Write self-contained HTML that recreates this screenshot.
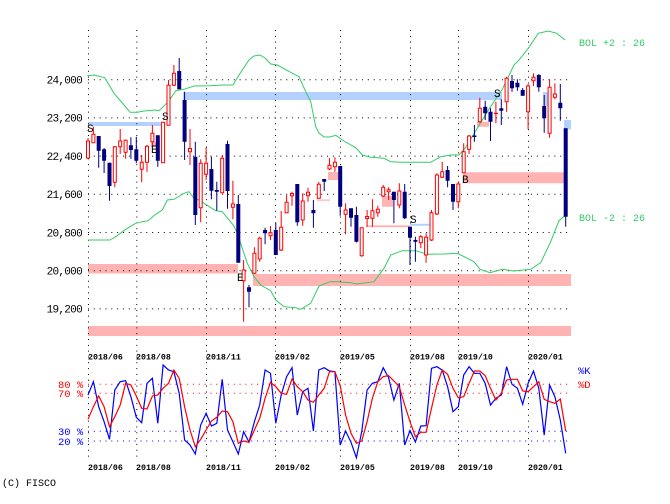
<!DOCTYPE html>
<html><head><meta charset="utf-8"><style>
html,body{margin:0;padding:0;background:#fff;}
svg{display:block;}
text{font-family:"Liberation Mono",monospace;}
</style></head><body>
<svg width="670" height="504" viewBox="0 0 670 504" xmlns="http://www.w3.org/2000/svg">
<rect width="670" height="504" fill="#fff"/>
<path fill="#b3d1ff" d="M88 122h73v4h-73zM183 92h319v8h-319zM543 92h5v14h-5zM564 120h7v9.5h-7zM410 223.8h20v2h-20z"/>
<path fill="#ffb3b3" d="M88 264h150v9.5h-150zM253 274h318v12h-318zM88 326h483v10h-483zM151 142h5v5h-5zM328 172h11v8h-11zM317 199.5h13v1.3h-13zM366 225.3h44v2h-44zM382 196h11v10.7h-11zM463 172.3h101v11h-101zM477 121.7h12v5h-12z"/>
<path stroke="#000" stroke-width="1" stroke-dasharray="1 4.83" fill="none" d="M88 79.7H568M88 117.9H568M88 156.1H568M88 194.3H568M88 232.5H568M88 270.7H568M88 308.9H568M88.5 30V458M136.8 30V458M206.5 30V458M275.5 30V458M340.5 30V458M410.5 30V458M458.5 30V458M528.5 30V458"/>
<path stroke="#f00" stroke-width="1" stroke-dasharray="1 4.83" fill="none" d="M88 384.3H568M88 393.3H568"/>
<path stroke="#00f" stroke-width="1" stroke-dasharray="1 4.83" fill="none" d="M88 431.3H568M88 441H568"/>
<g stroke="#33cc66" stroke-width="1" fill="none">
<polyline points="87.3,75.7 94,75 104.7,77.7 114,93.3 124,105 130,112.3 137.3,112.3 144,111 155.7,110 159,110.7 165.7,104.3 170,99.3 175.7,90.7 184,89.3 194,86 210,85.7 222.3,85 233,85 239,75 249,60 254,56 260,55 265,58 270.7,64 277.3,65 290.7,72.3 299,76.7 305.7,91.7 310.7,101.7 315.7,126.7 319,133 324,137 330,137 335.7,135.3 344,141 355.7,147.7 362.3,155 370.7,157.3 384,158.3 390.7,161.7 400.7,162.3 430.7,162.3 440.7,156.7 450.7,155 459,155 465.7,147.3 477.3,128.3 487.3,111.7 502.3,89.3 514,65 519,60 528.3,48.3 538.3,33.3 548.3,31 556.7,33.3 565,40"/>
<polyline points="88,240 110,240 117.3,235.7 125.7,229.3 135.7,223.3 142.3,221.7 148,220.7 155.7,214.3 162.3,210 167.3,200 174,199.3 184,193.3 189,191.7 194,198.3 200.7,200.7 204,203.3 215.7,210.7 222.3,211.7 234,226 237.3,233.3 247.3,263.3 254,276.7 260.7,285 270.7,290.7 275.7,300 284,306.7 295.7,307.7 300.7,309.3 310.7,303.3 319,286 330,281.7 337.3,281.7 350.7,282.7 356.3,284 374,281.7 384,268.3 390.7,255 402.3,250.7 415.7,250.7 427.3,254.3 444,254 457.3,253.3 474,261.7 480,269.3 490,272.7 502.3,269.3 514,271 530.7,269.3 540.7,262.7 550.7,241.7 559,220.7 565.7,215"/>
</g>
<path fill="none" stroke="#000080" stroke-width="1" d="M98.7 136V167.7M104.1 148V173M109.5 162.7V200.7M130.9 137.3V158.7M136.3 136.7V163.3M157.8 135.3V166.7M179.2 58V89.3M184.6 91.7V160M195.3 141.7V225M211.4 156.7V199.3M216.8 181.7V210.7M227.5 140.7V208.7M238.3 195V262.7M249 285V307.3M265.1 227.7V244.3M275.8 222.7V255M297.3 184V225.7M313.4 200V227.7M324.2 179V191M340.2 166V215.7M351 208.3V226.7M356.4 206.7V242.5M393.9 191.7V223.3M404.7 184V219M410 226.7V265M415.4 236.7V261.7M447.6 166V187.3M453 184V210M474.4 125V141.7M485.2 100.7V120M490.5 108.3V141M501.3 99.3V125M512 75V91.7M517.4 79.3V90.7M522.7 88V95.7M538.8 74V91.7M544.2 95V132.7M560.3 84V120.7M565.7 128.3V226.7"/>
<path fill="none" stroke="#000080" stroke-width="4" d="M98.7 136V150.7M104.1 149.3V160.7M109.5 162.7V186M130.9 145.3V150M136.3 149.3V160.7M157.8 135.3V160.7M179.2 71V89.3M184.6 100V141.7M195.3 156.7V215M211.4 169V190.7M216.8 190V191.7M227.5 144V191M238.3 204V262.7M249 287.3V291.7M265.1 230V233.3M275.8 230V255M297.3 184V222.3M313.4 210V213.3M324.2 179V181.7M340.2 166V206.7M351 208.3V217.7M356.4 215V241.7M393.9 191.7V200M404.7 191.7V218.3M410 226.7V237.7M415.4 240V241.7M447.6 170V180.7M453 184V201.7M474.4 135.5V137M485.2 106.7V113.3M490.5 111.7V121.7M501.3 108.3V110.7M512 81V88.3M517.4 82.7V87.3M522.7 90V95.7M538.8 75V87.3M544.2 106V118.3M560.3 102.7V108.3M565.7 128.3V216.7"/>
<path fill="none" stroke="#f00" stroke-width="1" d="M88 138V159M93.4 126.7V143M114.8 146V187.3M120.2 129V154M125.6 139.5V158.7M141.7 155V182.3M147 145V171.7M152.4 125V146.7M163.1 122.3V163M168.5 80V125.3M173.9 65V86M190 129V165M200.7 159.3V222.3M206.1 147.3V180M222.2 155V193.3M232.9 180.7V219.3M243.6 260V321.7M254.4 247.3V274M259.7 236.7V261.7M270.5 226V240M281.2 211V251M286.6 195V213.3M292 191.7V205.7M302.7 193.3V225.7M308 187.7V201.7M318.8 181.7V198.7M329.5 158.3V170M334.9 157.3V171.7M345.6 203.3V234.3M361.7 227.7V256.7M367.1 210V226.7M372.4 199.3V226.7M377.8 205.7V216.7M383.2 185V197M388.6 187.3V200M399.3 183.3V208.3M420.8 235V248.3M426.1 233.3V262.7M431.5 210V241M436.9 173.3V215M442.2 161.7V178M458.3 181.7V208.3M463.7 143.3V173M469.1 135V154M479.8 97.7V122.7M495.9 101.7V123.3M506.6 76.7V111.7M528.1 84V129.3M533.5 73.3V86M549.6 79.3V137.7M554.9 83.3V99.3"/>
<path fill="none" stroke="#f00" stroke-width="4" d="M88 140.5V158.5M93.4 133.8V143.2M114.8 146.2V182.8M120.2 140.5V147.2M125.6 139.8V152.8M141.7 161.8V169.8M147 145.8V162.8M152.4 132.8V142.2M163.1 121.8V163.2M168.5 84.8V125.8M173.9 72.8V85.8M190 148V152.2M200.7 162.8V208.2M206.1 162.8V174.8M222.2 157.8V193.2M232.9 203.5V207.8M243.6 269.5V281.2M254.4 252.8V273.8M259.7 237.8V259.5M270.5 232.2V236.2M281.2 226.8V250.5M286.6 201.8V213.2M292 193V196.2M302.7 200.5V220.5M308 191.8V196.2M318.8 183.8V198.8M329.5 164.8V169.5M334.9 161.8V167.2M345.6 209.5V214.8M361.7 227.2V256.2M367.1 216V219M372.4 210.2V218.8M377.8 208.8V213.2M383.2 186.8V196.5M388.6 189.3V192.3M399.3 190.5V205.5M420.8 236.2V243.2M426.1 236.8V255.5M431.5 212.2V240.5M436.9 174.5V214.5M442.2 171.2V177.8M458.3 183.5V202.2M463.7 151.2V173.2M469.1 135.5V149.8M479.8 107.8V122.2M495.9 112.8V114.1M506.6 77.8V102.2M528.1 85.5V112.2M533.5 76.8V81.2M549.6 86.8V133.8M554.9 93.5V97.8"/>
<path fill="none" stroke="#fff" stroke-width="2" d="M88 141.5V157.5M93.4 134.8V142.2M114.8 147.2V181.8M120.2 141.5V146.2M125.6 140.8V151.8M141.7 162.8V168.8M147 146.8V161.8M152.4 133.8V141.2M163.1 122.8V162.2M168.5 85.8V124.8M173.9 73.8V84.8M190 149V151.2M200.7 163.8V207.2M206.1 163.8V173.8M222.2 158.8V192.2M232.9 204.5V206.8M243.6 270.5V280.2M254.4 253.8V272.8M259.7 238.8V258.5M270.5 233.2V235.2M281.2 227.8V249.5M286.6 202.8V212.2M292 194V195.2M302.7 201.5V219.5M308 192.8V195.2M318.8 184.8V197.8M329.5 165.8V168.5M334.9 162.8V166.2M345.6 210.5V213.8M361.7 228.2V255.2M367.1 217V218M372.4 211.2V217.8M377.8 209.8V212.2M383.2 187.8V195.5M388.6 190.3V191.3M399.3 191.5V204.5M420.8 237.2V242.2M426.1 237.8V254.5M431.5 213.2V239.5M436.9 175.5V213.5M442.2 172.2V176.8M458.3 184.5V201.2M463.7 152.2V172.2M469.1 136.5V148.8M479.8 108.8V121.2M506.6 78.8V101.2M528.1 86.5V111.2M533.5 77.8V80.2M549.6 87.8V132.8M554.9 94.5V96.8"/>
<g font-size="11" fill="#000">
<text x="87" y="132">S</text>
<text x="162" y="120">S</text>
<text x="151" y="153">E</text>
<text x="237" y="281">E</text>
<text x="410" y="223">S</text>
<text x="462" y="183">B</text>
<text x="494" y="97">S</text>
</g>
<g font-size="11" fill="#000" text-anchor="end" letter-spacing="-0.7">
<text x="82" y="83.5">24,000</text>
<text x="82" y="121.7">23,200</text>
<text x="82" y="159.9">22,400</text>
<text x="82" y="198.1">21,600</text>
<text x="82" y="236.3">20,800</text>
<text x="82" y="274.5">20,000</text>
<text x="82" y="312.7">19,200</text>
</g>
<g font-size="10" fill="#33cc66">
<text x="579" y="46">BOL +2 : 26</text>
<text x="579" y="221">BOL -2 : 26</text>
</g>
<g font-size="8.3" font-weight="bold" fill="#000">
<text x="88" y="359.5">2018/06</text>
<text x="136" y="359.5">2018/08</text>
<text x="206" y="359.5">2018/11</text>
<text x="275" y="359.5">2019/02</text>
<text x="340" y="359.5">2019/05</text>
<text x="410" y="359.5">2019/08</text>
<text x="458" y="359.5">2019/10</text>
<text x="528" y="359.5">2020/01</text>
<text x="88" y="470">2018/06</text>
<text x="136" y="470">2018/08</text>
<text x="206" y="470">2018/11</text>
<text x="275" y="470">2019/02</text>
<text x="340" y="470">2019/05</text>
<text x="410" y="470">2019/08</text>
<text x="458" y="470">2019/10</text>
<text x="528" y="470">2020/01</text>
</g>
<g font-size="10.5">
<text x="58" y="388" fill="#f00">80 %</text>
<text x="58" y="397" fill="#f00">70 %</text>
<text x="58" y="435" fill="#00f">30 %</text>
<text x="58" y="445" fill="#00f">20 %</text>
<text x="578" y="374" fill="#00f">%K</text>
<text x="578" y="388" fill="#f00">%D</text>
</g>
<polyline fill="none" stroke="#00f" stroke-width="1.2" points="88,395 93.4,381.7 98.7,406.7 104.1,421.7 109.5,439.3 114.8,390 120.2,381.7 125.6,380.7 130.9,396.7 136.3,417.3 141.7,422.7 147,383.3 152.4,378.3 157.8,423.3 163.1,365 168.5,370 173.9,371.7 179.2,393.3 184.6,440 190,445 195.3,454 200.7,425 206.1,413.3 211.4,426 216.8,423.3 222.2,379.3 227.5,430 232.9,441.7 238.3,454 243.6,431.7 249,442 254.4,421.7 259.7,405 265.1,370 270.5,373.3 275.8,423.3 281.2,395 286.6,376.7 292,367.7 297.3,415 302.7,391.7 308,388.3 313.4,431 318.8,370 324.2,367.7 329.5,371 334.9,371.7 340.2,445 345.6,431 351,442.3 356.4,457.7 361.7,431.7 367.1,390 372.4,383.3 377.8,381.7 383.2,367.7 388.6,377.7 393.9,400 399.3,383.3 404.7,445 410,430.5 415.4,442 420.8,426 426.1,425.7 431.5,368.3 436.9,366.7 442.2,370 447.6,386.7 453,411.7 458.3,406.7 463.7,375 469.1,366.7 474.4,373.3 479.8,373.3 485.2,383.3 490.5,405 495.9,398.3 501.3,395 506.6,366.7 512,384.3 517.4,388.3 522.7,404.3 528.1,383.3 533.5,371 538.8,388.3 544.2,435 549.6,385 554.9,396.7 560.3,420 565.7,453.3"/>
<polyline fill="none" stroke="#f00" stroke-width="1.2" points="88,419.3 93.4,406.7 98.7,396 104.1,406.7 109.5,426.7 114.8,416.7 120.2,405 125.6,383.3 130.9,385 136.3,396 141.7,408.3 147,409 152.4,396 157.8,395 163.1,388.3 168.5,383.3 173.9,370 179.2,378.3 184.6,406.7 190,430 195.3,446.7 200.7,439.3 206.1,430 211.4,421 216.8,417.3 222.2,411 227.5,411.7 232.9,421.7 238.3,443.3 243.6,441 249,442.3 254.4,430 259.7,418.3 265.1,398.3 270.5,382.3 275.8,386.7 281.2,393.3 286.6,394.3 292,379 297.3,386.7 302.7,391.7 308,400 313.4,402.3 318.8,395 324.2,388.3 329.5,371.7 334.9,371.7 340.2,385.7 345.6,415 351,433.3 356.4,443.3 361.7,441 367.1,421.7 372.4,398.3 377.8,381.7 383.2,376.7 388.6,375.7 393.9,381 399.3,386.7 404.7,405 410,421.7 415.4,436.7 420.8,432.3 426.1,432.3 431.5,408.3 436.9,385 442.2,370 447.6,374.3 453,388.3 458.3,397.7 463.7,396.7 469.1,383.3 474.4,371 479.8,371 485.2,375.7 490.5,388.3 495.9,400 501.3,393.3 506.6,380 512,379.3 517.4,379.3 522.7,391 528.1,391.7 533.5,386.7 538.8,381.7 544.2,399.3 549.6,401.7 554.9,403.3 560.3,399 565.7,431"/>
<text x="2" y="486" font-size="10" fill="#000">(C) FISCO</text>
</svg>
</body></html>
